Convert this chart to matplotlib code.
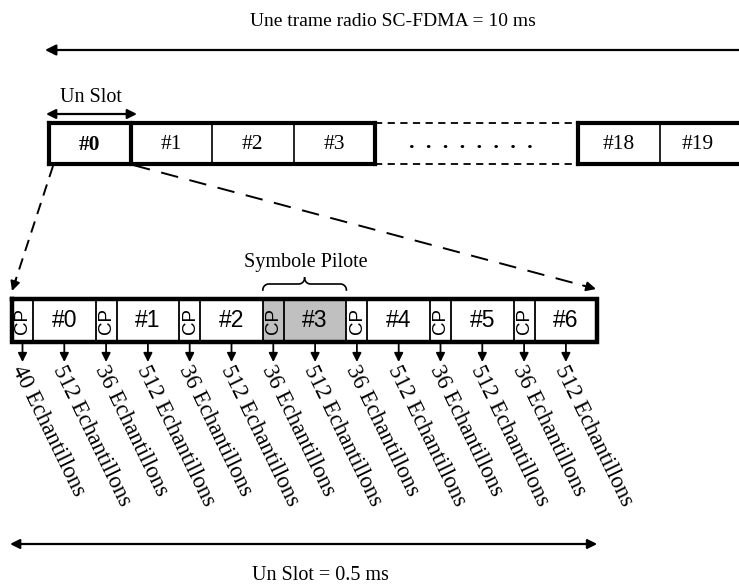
import numpy as np
import matplotlib.pyplot as plt

# trame radio : slots visibles
top_slots = ['#0', '#1', '#2', '#3']
end_slots = ['#18', '#19']
# un slot : 7 symboles SC-FDMA, chacun precede d'un CP
symbols = ['#0', '#1', '#2', '#3', '#4', '#5', '#6']
cp_samples = [40, 36, 36, 36, 36, 36, 36]
sym_samples = [512, 512, 512, 512, 512, 512, 512]
pilot = 3

serif = 'Liberation Serif'
sans = 'Liberation Sans'

fig = plt.figure(figsize=(7.39, 5.84), dpi=100)
ax = fig.add_axes([0, 0, 1, 1])
ax.set_xlim(0, 739)
ax.set_ylim(584, 0)
ax.axis('off')

# --- trame du haut ---
ax.text(393, 22, 'Une trame radio SC-FDMA = 10 ms', ha='center', va='center',
        fontsize=14, family=serif)
ax.annotate('', xy=(45, 50), xytext=(745, 50),
            arrowprops=dict(arrowstyle='-|>', lw=1.6, color='k', mutation_scale=16,
                            shrinkA=0, shrinkB=0))

ax.text(91, 97, 'Un Slot', ha='center', va='center', fontsize=14.5, family=serif)
ax.annotate('', xy=(46, 114), xytext=(137, 114),
            arrowprops=dict(arrowstyle='<|-|>', lw=1.6, color='k', mutation_scale=14,
                            shrinkA=0, shrinkB=0))

y0, y1 = 123, 164
w_top = 81.5
xs = [49 + i * w_top for i in range(len(top_slots) + 1)]
xe = [578, 660, 742]
thick, thin = 3.0, 1.2
ax.plot([xs[0], xs[-1]], [y0, y0], color='k', lw=thick, solid_capstyle='projecting')
ax.plot([xs[0], xs[-1]], [y1, y1], color='k', lw=thick, solid_capstyle='projecting')
ax.plot([xe[0], xe[-1]], [y0, y0], color='k', lw=thick, solid_capstyle='projecting')
ax.plot([xe[0], xe[-1]], [y1, y1], color='k', lw=thick, solid_capstyle='projecting')
ax.plot([xs[-1], xe[0]], [y0, y0], color='k', lw=1.3, ls=(0, (4, 3)))
ax.plot([xs[-1], xe[0]], [y1, y1], color='k', lw=1.3, ls=(0, (4, 3)))
for i, x in enumerate(xs):
    ax.plot([x, x], [y0, y1], color='k', lw=thick if i in (0, 1, len(xs) - 1) else thin)
ax.plot([xe[0], xe[0]], [y0, y1], color='k', lw=thick)
ax.plot([xe[1], xe[1]], [y0, y1], color='k', lw=thin)
for i, lab in enumerate(top_slots):
    ax.text((xs[i] + xs[i + 1]) / 2, (y0 + y1) / 2 + 1, lab, ha='center', va='center',
            fontsize=15.5, family=serif, fontweight='bold' if i == 0 else 'normal')
for i, lab in enumerate(end_slots):
    ax.text((xe[i] + xe[i + 1]) / 2 if i == 0 else 698, (y0 + y1) / 2 + 1, lab,
            ha='center', va='center', fontsize=15.5, family=serif)
ax.text(471, (y0 + y1) / 2, '.  .  .  .  .  .  .  .', ha='center', va='center',
        fontsize=16, family=serif, fontweight='bold')

# --- zoom : lignes pointillees ---
ax.plot([53, 15], [166, 282], color='k', lw=1.4, ls=(0, (6, 4)))
ax.annotate('', xy=(12, 291), xytext=(16, 279),
            arrowprops=dict(arrowstyle='-|>', lw=1.4, color='k', mutation_scale=14,
                            shrinkA=0, shrinkB=0))
ax.plot([133, 585], [165, 286], color='k', lw=1.4, ls=(0, (9, 6)))
ax.annotate('', xy=(596, 289), xytext=(583, 285.5),
            arrowprops=dict(arrowstyle='-|>', lw=1.4, color='k', mutation_scale=14,
                            shrinkA=0, shrinkB=0))

# --- slot detaille ---
b0, b1 = 299, 342
cpw, symw = 21.0, 62.6
x = 12.0
edges = []
for k in range(len(symbols)):
    edges.append((x, x + cpw, x + cpw + symw))
    x += cpw + symw
xend = x

labels = []
for k, (a, b, c) in enumerate(edges):
    face = '#c0c0c0' if k == pilot else 'white'
    ax.fill_between([a, c], b0, b1, color=face, lw=0)
    ax.plot([a, a], [b0, b1], color='k', lw=1.3)
    ax.plot([b, b], [b0, b1], color='k', lw=1.3)
    ax.text((a + b) / 2 + 0.5, (b0 + b1) / 2, 'CP', rotation=90, ha='center', va='center',
            fontsize=13.5, family=sans)
    ax.text((b + c) / 2, (b0 + b1) / 2, symbols[k], ha='center', va='center',
            fontsize=16.5, family=sans)
    labels.append(((a + b) / 2, cp_samples[k]))
    labels.append(((b + c) / 2, sym_samples[k]))
ax.plot([12, xend, xend, 12, 12], [b0, b0, b1, b1, b0], color='k', lw=3.2,
        solid_joinstyle='miter')

for cx, n in labels:
    ax.annotate('', xy=(cx, 362), xytext=(cx, 344),
                arrowprops=dict(arrowstyle='-|>', lw=1.3, color='k', mutation_scale=13,
                                shrinkA=0, shrinkB=0))
    ax.text(cx - 6, 367, f'{n} Echantillons', rotation=-64, rotation_mode='anchor',
            ha='left', va='center', fontsize=16.5, family=serif)

# accolade du symbole pilote
bl, br = edges[pilot][0], edges[pilot][2]
bm = (bl + br) / 2
t = np.linspace(0, np.pi / 2, 20)
r = 6
left_arc_x = bl + r - r * np.cos(t)
left_arc_y = 290 - r * np.sin(t)
bx = np.concatenate([left_arc_x, [bm - r], bm - r + r * np.sin(t), ])
by = np.concatenate([left_arc_y, [284], 284 - r + r * np.cos(t)])
bx2 = 2 * bm - bx
ax.plot(bx, by, color='k', lw=1.2)
ax.plot(bx2, by, color='k', lw=1.2)
ax.text(306, 262, 'Symbole Pilote', ha='center', va='center', fontsize=14.5, family=serif)

# --- duree du slot ---
ax.annotate('', xy=(10, 544), xytext=(xend, 544),
            arrowprops=dict(arrowstyle='<|-|>', lw=1.6, color='k', mutation_scale=14,
                            shrinkA=0, shrinkB=0))
ax.text(320, 575, 'Un Slot = 0.5 ms', ha='center', va='center', fontsize=14.5, family=serif)

fig.savefig('out.png', dpi=100)
